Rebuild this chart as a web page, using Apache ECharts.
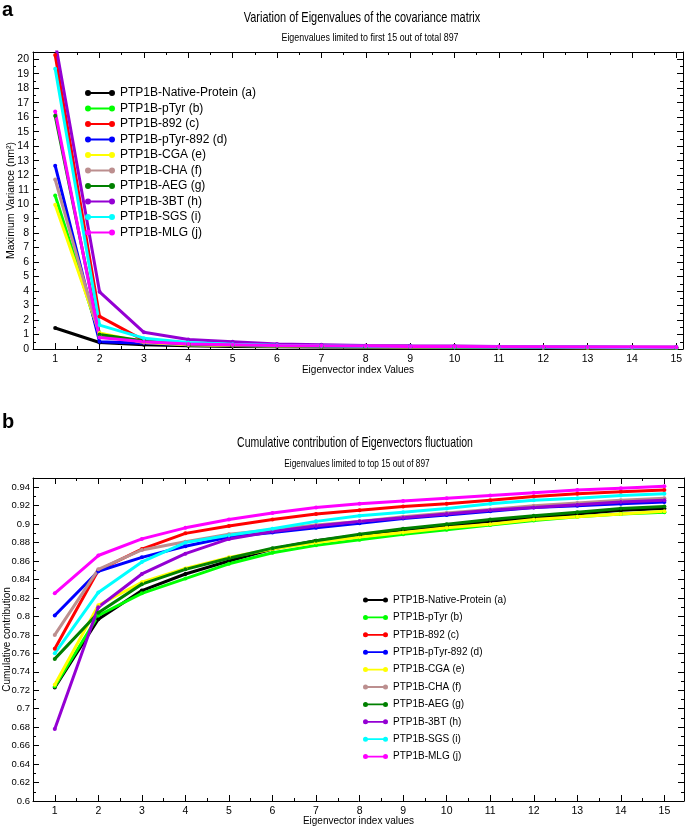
<!DOCTYPE html>
<html>
<head>
<meta charset="utf-8">
<script src="https://cdn.jsdelivr.net/npm/echarts@6/dist/echarts.min.js"></script>
<style>html,body{margin:0;padding:0;background:#fff}#c{width:685px;height:827px}</style>
</head>
<body>
<div id="c"></div>
<script>
const eigIndex = [1,2,3,4,5,6,7,8,9,10,11,12,13,14,15];
const xTicks = [1,2,3,4,5,6,7,8,9,10,11,12,13,14,15];
const xHalfTicks = [1.5,2.5,3.5,4.5,5.5,6.5,7.5,8.5,9.5,10.5,11.5,12.5,13.5,14.5];
const seriesNames = ['PTP1B-Native-Protein (a)','PTP1B-pTyr (b)','PTP1B-892 (c)','PTP1B-pTyr-892 (d)','PTP1B-CGA (e)','PTP1B-CHA (f)','PTP1B-AEG (g)','PTP1B-3BT (h)','PTP1B-SGS (i)','PTP1B-MLG (j)'];
const seriesColors = ['#000000','#00ff00','#ff0000','#0000ff','#ffff00','#bc8f8f','#008000','#9400d3','#00ffff','#ff00ff'];

// Panel a: maximum variance (nm^2)
const varNative = [1.45,0.45,0.30,0.22,0.18,0.15,0.13,0.12,0.11,0.10,0.09,0.085,0.08,0.075,0.07];
const varPTyr   = [10.6,0.90,0.45,0.30,0.25,0.20,0.17,0.15,0.13,0.12,0.11,0.10,0.095,0.09,0.085];
const var892    = [20.3,2.25,0.60,0.40,0.30,0.25,0.20,0.17,0.15,0.14,0.13,0.12,0.11,0.10,0.10];
const varPTyr892= [12.65,0.50,0.40,0.30,0.25,0.20,0.17,0.15,0.13,0.12,0.11,0.10,0.10,0.09,0.09];
const varCGA    = [9.95,1.10,0.45,0.30,0.25,0.20,0.17,0.15,0.13,0.12,0.11,0.10,0.09,0.09,0.08];
const varCHA    = [11.7,0.90,0.50,0.35,0.27,0.22,0.18,0.16,0.14,0.13,0.12,0.11,0.10,0.10,0.09];
const varAEG    = [16.1,1.00,0.55,0.35,0.28,0.22,0.19,0.16,0.15,0.13,0.12,0.11,0.10,0.10,0.09];
const var3BT    = [21.2,3.95,1.15,0.65,0.50,0.35,0.30,0.25,0.22,0.20,0.18,0.16,0.15,0.14,0.13];
const varSGS    = [19.35,1.65,0.75,0.45,0.32,0.26,0.22,0.19,0.17,0.15,0.14,0.13,0.12,0.11,0.10];
const varMLG    = [16.4,0.80,0.50,0.35,0.30,0.25,0.22,0.20,0.18,0.17,0.16,0.15,0.14,0.13,0.12];

// Panel b: cumulative contribution
const cumNative = [0.723,0.797,0.828,0.846,0.860,0.873,0.882,0.888,0.894,0.898,0.903,0.907,0.911,0.915,0.917];
const cumPTyr   = [0.724,0.801,0.825,0.841,0.857,0.869,0.877,0.883,0.889,0.894,0.899,0.904,0.908,0.911,0.913];
const cum892    = [0.765,0.850,0.873,0.890,0.898,0.905,0.911,0.915,0.919,0.922,0.926,0.930,0.933,0.935,0.937];
const cumPTyr892= [0.801,0.849,0.864,0.876,0.886,0.891,0.896,0.901,0.906,0.910,0.914,0.918,0.920,0.922,0.924];
const cumCGA    = [0.726,0.812,0.837,0.852,0.864,0.873,0.880,0.886,0.891,0.896,0.900,0.905,0.908,0.911,0.914];
const cumCHA    = [0.780,0.851,0.872,0.881,0.889,0.894,0.899,0.903,0.908,0.912,0.916,0.920,0.923,0.926,0.928];
const cumAEG    = [0.754,0.804,0.835,0.851,0.863,0.874,0.882,0.889,0.895,0.900,0.905,0.909,0.913,0.917,0.919];
const cum3BT    = [0.678,0.810,0.846,0.868,0.884,0.892,0.898,0.903,0.907,0.911,0.915,0.918,0.921,0.924,0.926];
const cumSGS    = [0.760,0.826,0.859,0.880,0.888,0.895,0.903,0.909,0.913,0.917,0.922,0.926,0.928,0.931,0.933];
const cumMLG    = [0.825,0.866,0.884,0.896,0.905,0.912,0.918,0.922,0.925,0.928,0.931,0.934,0.937,0.939,0.941];

const varData = [varNative,varPTyr,var892,varPTyr892,varCGA,varCHA,varAEG,var3BT,varSGS,varMLG];
const cumData = [cumNative,cumPTyr,cum892,cumPTyr892,cumCGA,cumCHA,cumAEG,cum3BT,cumSGS,cumMLG];

const FONT = '"Liberation Sans",Arial,sans-serif';

function xAxes(grid, min, max, name, nameGap) {
  const base = {type:'value', gridIndex:grid, min:min, max:max, splitLine:{show:false}};
  return [
    Object.assign({}, base, {position:'bottom', name:name, nameLocation:'middle', nameGap:nameGap, nameMoveOverlap:false,
      nameTextStyle:{fontFamily:FONT, fontSize:10, color:'#000'},
      axisLine:{show:true, lineStyle:{color:'#000', width:1}},
      axisTick:{show:true, inside:true, length:6, customValues:xTicks, lineStyle:{color:'#000'}},
      axisLabel:{show:true, customValues:xTicks, fontFamily:FONT, fontSize:10.5, color:'#000', margin:5}}),
    Object.assign({}, base, {position:'bottom', axisLine:{show:false},
      axisTick:{show:true, inside:true, length:3, customValues:xHalfTicks, lineStyle:{color:'#000'}},
      axisLabel:{show:false}}),
    Object.assign({}, base, {position:'top', axisLine:{show:true, lineStyle:{color:'#000', width:1}},
      axisTick:{show:true, inside:true, length:6, customValues:xTicks, lineStyle:{color:'#000'}},
      axisLabel:{show:false}}),
    Object.assign({}, base, {position:'top', axisLine:{show:false},
      axisTick:{show:true, inside:true, length:3, customValues:xHalfTicks, lineStyle:{color:'#000'}},
      axisLabel:{show:false}})
  ];
}
function yAxes(grid, min, max, interval, name, nameGap, fmt, labelSize, labelMargin, nameSize) {
  const base = {type:'value', gridIndex:grid, min:min, max:max, interval:interval, splitLine:{show:false},
    axisLine:{show:true, lineStyle:{color:'#000', width:1}},
    axisTick:{show:true, inside:true, length:6, lineStyle:{color:'#000'}},
    minorTick:{show:true, splitNumber:2, length:3, lineStyle:{color:'#000'}},
    minorSplitLine:{show:false}};
  return [
    Object.assign({}, base, {position:'left', name:name, nameLocation:'middle', nameGap:nameGap, nameMoveOverlap:false,
      nameTextStyle:{fontFamily:FONT, fontSize:nameSize, color:'#000'},
      axisLabel:{show:true, fontFamily:FONT, fontSize:labelSize, color:'#000', margin:labelMargin, showMaxLabel:false, formatter:fmt}}),
    Object.assign({}, base, {position:'right', axisLabel:{show:false}})
  ];
}

const legendIcon = 'path://M3,0A3,3,0,1,1,3,6A3,3,0,1,1,3,0ZM3,1.9L27,1.9L27,4.1L3,4.1ZM27,0A3,3,0,1,1,27,6A3,3,0,1,1,27,0Z';

const series = [];
seriesNames.forEach((nm, i) => {
  series.push({type:'line', name:nm, xAxisIndex:0, yAxisIndex:0,
    data: eigIndex.map((x, k) => [x, varData[i][k]]),
    symbol:'circle', symbolSize:4, showSymbol:true, clip:true,
    lineStyle:{width:3, color:seriesColors[i]}, itemStyle:{color:seriesColors[i]},
    emphasis:{disabled:true}, animation:false});
});
seriesNames.forEach((nm, i) => {
  series.push({type:'line', name:nm, xAxisIndex:4, yAxisIndex:2,
    data: eigIndex.map((x, k) => [x, cumData[i][k]]),
    symbol:'circle', symbolSize:4, showSymbol:true, clip:true,
    lineStyle:{width:3, color:seriesColors[i]}, itemStyle:{color:seriesColors[i]},
    emphasis:{disabled:true}, animation:false});
});

function txt(str, x, y, size, sx) {
  return {type:'text', x:x, y:y, scaleX:sx, style:{text:str, font:size+'px '+FONT, fill:'#000', textAlign:'center', textVerticalAlign:'middle'}};
}

const option = {
  backgroundColor:'#fff',
  animation:false,
  grid:[
    {left:33, right:2, top:52, height:297, containLabel:false, outerBoundsMode:'none'},
    {left:33, right:1, top:478, height:323, containLabel:false, outerBoundsMode:'none'}
  ],
  xAxis: xAxes(0, 0.5, 15.15, 'Eigenvector index Values', 16).concat(xAxes(1, 0.5, 15.45, 'Eigenvector index values', 15)),
  yAxis: yAxes(0, 0, 20.5, 1, 'Maximum Variance (nm²)', 16, v => String(Math.round(v)), 10.5, 4, 10.5)
    .concat(yAxes(1, 0.6, 0.95, 0.02, 'Cumulative contribution', 21, v => String(+v.toFixed(2)), 9.5, 3, 10)),
  legend:[
    {orient:'vertical', left:85, top:87, padding:0, itemWidth:30, itemHeight:6, itemGap:3.5, icon:legendIcon,
     textStyle:{fontFamily:FONT, fontSize:12, color:'#000', lineHeight:12}, data:seriesNames, selectedMode:false},
    {orient:'vertical', left:363, top:594, padding:0, itemWidth:25, itemHeight:6, itemGap:5.4, icon:legendIcon,
     textStyle:{fontFamily:FONT, fontSize:10, color:'#000', lineHeight:12}, data:seriesNames, selectedMode:false}
  ],
  graphic:[
    {type:'text', left:2, top:0, style:{text:'a', font:'bold 20px '+FONT, fill:'#000'}},
    txt('Variation of Eigenvalues of the covariance matrix', 362, 18, 15, 0.73),
    txt('Eigenvalues limited to first 15 out of total 897', 370, 38, 10, 0.89),
    {type:'text', left:2, top:412, style:{text:'b', font:'bold 20px '+FONT, fill:'#000'}},
    txt('Cumulative contribution of Eigenvectors fluctuation', 355, 443, 15, 0.7),
    txt('Eigenvalues limited to top 15 out of 897', 357, 464, 10, 0.83)
  ],
  series: series
};
const chart = echarts.init(document.getElementById('c'), null, {renderer:'canvas'});
chart.setOption(option);
</script>
</body>
</html>
